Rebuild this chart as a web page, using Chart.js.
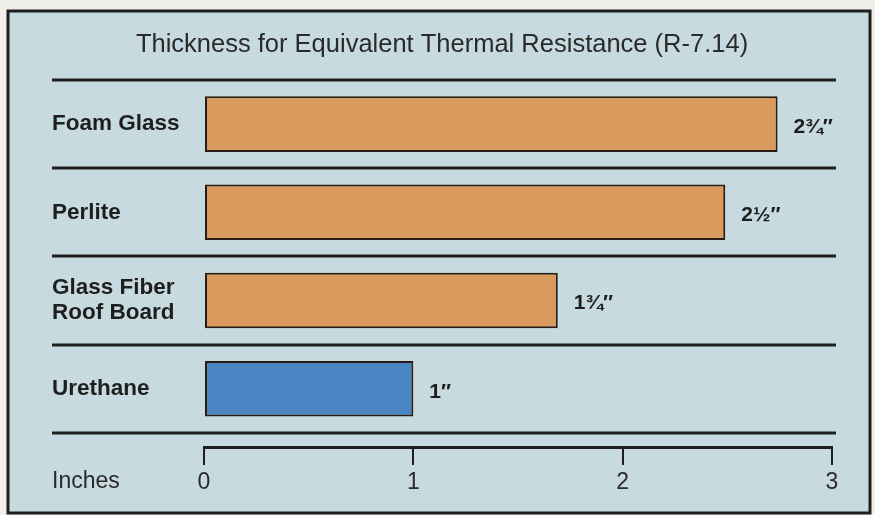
<!DOCTYPE html>
<html>
<head>
<meta charset="utf-8">
<script src="https://cdn.jsdelivr.net/npm/chart.js@4"></script>
<style>
  html, body { margin: 0; padding: 0; background: #f0efe9; }
  #wrap { width: 875px; height: 515px; }
</style>
</head>
<body>
<div id="wrap"><canvas id="thicknessChart" width="875" height="515"></canvas></div>
<script>
const materials = ["Foam Glass", "Perlite", ["Glass Fiber", "Roof Board"], "Urethane"];
const inches = [2.74, 2.49, 1.69, 1.0];
const valueLabels = ["2\u00BE\u2033", "2\u00BD\u2033", "1\u00BE\u2033", "1\u2033"];
const xTicks = [0, 1, 2, 3];

const orange = "#db9a5d";
const blue = "#4a86c4";
const ink = "#1e1e1e";
const panel = "#c7dadf";

const framePlugin = {
  id: "frame",
  beforeDraw(chart) {
    const c = chart.ctx;
    c.save();
    c.fillStyle = "#f0efe9";
    c.fillRect(0, 0, chart.width, chart.height);
    c.fillStyle = panel;
    c.fillRect(8, 11, 862, 502);
    c.lineWidth = 3;
    c.strokeStyle = ink;
    c.strokeRect(8, 11, 862, 502);
    c.restore();
  },
  afterDraw(chart) {
    const c = chart.ctx;
    const y = chart.scales.y;
    const x = chart.scales.x;
    c.save();
    // row separators
    c.strokeStyle = ink;
    c.lineWidth = 3;
    for (let i = 0; i <= materials.length; i++) {
      const py = Math.round(y.getPixelForValue(i - 0.5));
      c.beginPath();
      c.moveTo(52, py);
      c.lineTo(836, py);
      c.stroke();
    }
    // value labels at bar ends
    c.fillStyle = ink;
    c.font = "bold 21px 'Liberation Sans', Arial, sans-serif";
    c.textAlign = "left";
    c.textBaseline = "middle";
    inches.forEach((v, i) => {
      c.fillText(valueLabels[i], x.getPixelForValue(v) + 16, y.getPixelForValue(i) + 3);
    });
    // axis caption
    c.font = "23px 'Liberation Sans', Arial, sans-serif";
    c.fillStyle = "#2a2a2a";
    c.fillText("Inches", 52, 482);
    c.restore();
  }
};

const config = {
  type: "bar",
  data: {
    datasets: [{
      data: inches.map((v, i) => ({ x: v, y: i })),
      backgroundColor: inches.map((v, i) => (i === inches.length - 1 ? blue : orange)),
      borderColor: "#2a1c12",
      borderWidth: 2,
      borderSkipped: false,
      barPercentage: 0.63,
      categoryPercentage: 1
    }]
  },
  options: {
    indexAxis: "y",
    responsive: false,
    animation: false,
    layout: { padding: { left: 52, right: 43, top: 0, bottom: 0 } },
    plugins: {
      legend: { display: false },
      tooltip: { enabled: false },
      title: {
        display: true,
        text: "Thickness for Equivalent Thermal Resistance (R-7.14)",
        color: "#2a2a2a",
        font: { size: 25.5, family: "'Liberation Sans', Arial, sans-serif", weight: "normal" },
        padding: { top: 30, bottom: 19.4 }
      }
    },
    scales: {
      x: {
        type: "linear",
        min: 0,
        max: 3,
        offset: false,
        afterFit: s => { s.height = 68; },
        afterBuildTicks: s => { s.ticks = xTicks.map(v => ({ value: v })); },
        grid: { offset: false, drawOnChartArea: false, drawTicks: true, tickLength: 18, color: ink, lineWidth: 2 },
        border: { display: true, width: 3, color: ink },
        ticks: {
          color: "#2a2a2a",
          padding: 4,
          font: { size: 23, family: "'Liberation Sans', Arial, sans-serif" }
        }
      },
      y: {
        type: "linear",
        min: -0.5,
        max: 3.66,
        offset: false,
        reverse: true,
        afterFit: s => { s.width = 152; },
        afterBuildTicks: s => { s.ticks = materials.map((m, i) => ({ value: i })); },
        grid: { display: false, offset: false },
        border: { display: false },
        ticks: {
          crossAlign: "far",
          color: ink,
          autoSkip: false,
          font: { size: 22.5, weight: "bold", family: "'Liberation Sans', Arial, sans-serif", lineHeight: 1.1 },
          callback: v => materials[v]
        }
      }
    }
  },
  plugins: [framePlugin]
};

new Chart(document.getElementById("thicknessChart"), config);
</script>
</body>
</html>
